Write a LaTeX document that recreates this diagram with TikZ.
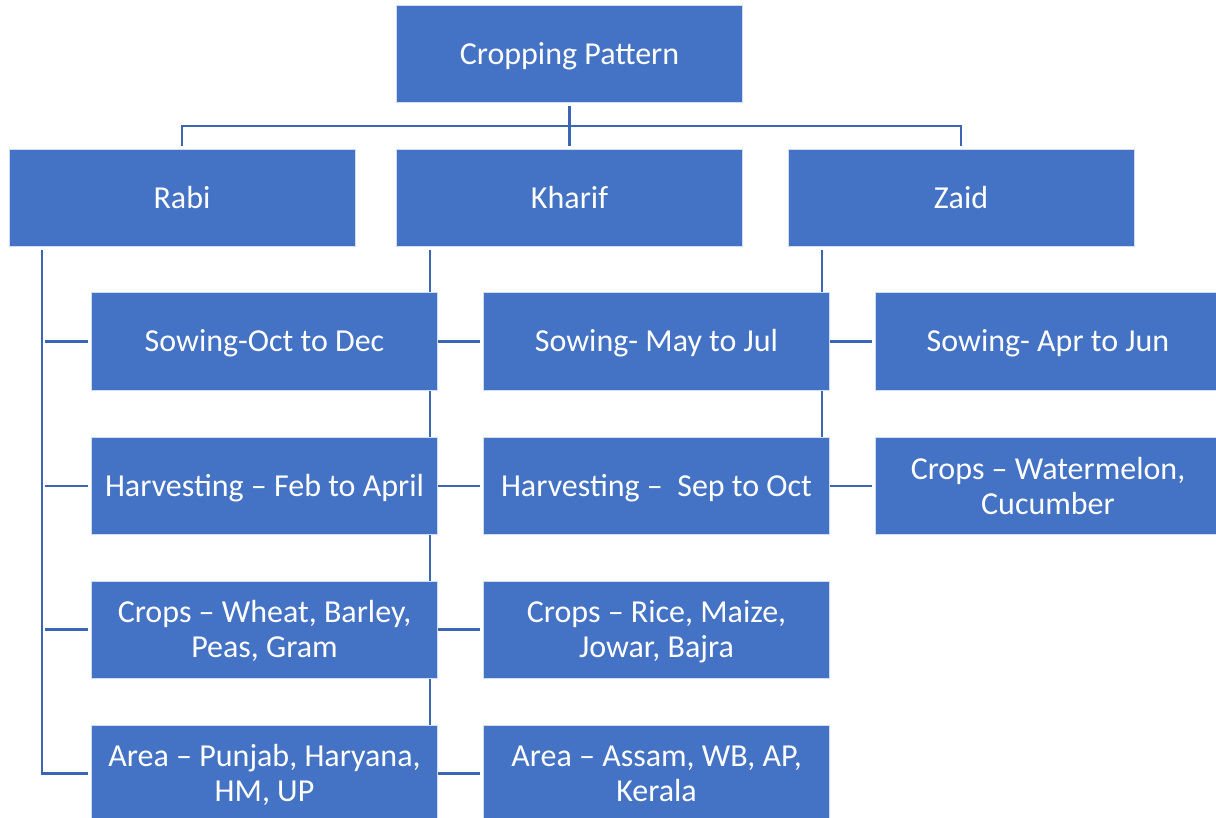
\documentclass[tikz,border=0pt]{standalone}
\usepackage{fontspec}
\setmainfont{Carlito}
\usetikzlibrary{backgrounds}
\definecolor{boxblue}{HTML}{4472C4}
\definecolor{lineblue}{HTML}{3C66B4}
\begin{document}
\begin{tikzpicture}[x=1pt,y=-1pt,
  box/.style={rectangle, fill=boxblue, draw=white!75!boxblue, line width=1pt,
    minimum width=346pt, minimum height=97pt, inner sep=0pt, text=white,
    align=center, font=\fontsize{32}{35}\selectfont,
    execute at begin node={\rule{0pt}{28pt}},
    execute at end node={\rule[-7pt]{0pt}{7pt}}},
  twoline/.style={execute at begin node={\rule{0pt}{63pt}}},
  conn/.style={draw=lineblue, line width=2.6pt, shorten <=3pt, shorten >=3pt}]
\useasboundingbox (0,0) rectangle (1216,818);
\clip (0,0) rectangle (1216,818);
\coordinate (bus) at (569.5,126);
\coordinate (rtop) at (42,247);
\coordinate (ktop) at (430,247);
\coordinate (ztop) at (822,247);
\path (569.5,54.5) node[box] (top) {Cropping Pattern};
\path (182,198) node[box] (rabi) {Rabi};
\path (569.5,198) node[box] (kharif) {Kharif};
\path (961,198) node[box] (zaid) {Zaid};
\path (264.5,341.5) node[box] (r1) {Sowing-Oct to Dec};
\path (264.5,486) node[box] (r2) {Harvesting – Feb to April};
\path (264.5,629.5) node[box,twoline] (r3) {Crops – Wheat, Barley,\\Peas, Gram};
\path (264.5,773.5) node[box,twoline] (r4) {Area – Punjab, Haryana,\\HM, UP};
\path (656.5,341.5) node[box] (k1) {Sowing- May to Jul};
\path (656.5,486) node[box] (k2) {Harvesting –\ \ Sep to Oct};
\path (656.5,629.5) node[box,twoline] (k3) {Crops – Rice, Maize,\\Jowar, Bajra};
\path (656.5,773.5) node[box,twoline] (k4) {Area – Assam, WB, AP,\\Kerala};
\path (1048,341.5) node[box] (z1) {Sowing- Apr to Jun};
\path (1048,486) node[box,twoline] (z2) {Crops – Watermelon,\\Cucumber};
\begin{pgfonlayer}{background}
\path[conn] (top.south) -- (kharif.north);
\path[conn] (rabi.north) |- (bus) -| (zaid.north);
\path[conn] (rtop) |- (r4.west);
\foreach \n in {r1,r2,r3} \path[conn] (rtop |- \n.west) -- (\n.west);
\path[conn] (ktop) |- (k4.west);
\foreach \n in {k1,k2,k3} \path[conn] (ktop |- \n.west) -- (\n.west);
\path[conn] (ztop) |- (z2.west);
\path[conn] (ztop |- z1.west) -- (z1.west);
\end{pgfonlayer}
\end{tikzpicture}
\end{document}
